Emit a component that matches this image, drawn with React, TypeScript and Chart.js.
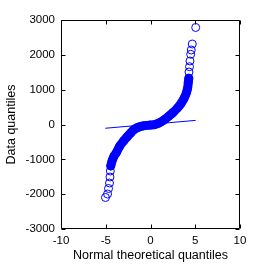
import React, { useEffect, useRef } from "react";
import { Chart, registerables } from "chart.js";

Chart.register(...registerables);

// Dense part of the Q-Q band (theoretical quantile, data quantile)
const bandX = [-4.44, -4.3, -4.1, -3.8, -3.44, -3.0, -2.6, -2.2, -1.9, -1.5, -1.17, -0.8, -0.4, 0.0, 0.5, 0.84, 1.2, 1.6, 2.0, 2.5, 3.0, 3.4, 3.75, 4.0, 4.15, 4.22, 4.28];
const bandY = [-1190, -1050, -920, -800, -620, -470, -350, -240, -160, -95, -62, -40, -25, -15, 0, 30, 80, 150, 230, 340, 470, 600, 750, 900, 1050, 1200, 1330];

// Sparse tail points
const lowTailX = [-5.03, -4.8, -4.69, -4.58, -4.53, -4.49];
const lowTailY = [-2096, -1995, -1837, -1680, -1507, -1335];
const highTailX = [4.3, 4.36, 4.41, 4.49, 4.55, 4.67, 5.05];
const highTailY = [1507, 1659, 1823, 2015, 2139, 2311, 2785];

// Reference line end points
const refX = [-5.05, 5.05];
const refY = [-108, 118];

const xTicks = [-10, -5, 0, 5, 10];
const yTicks = [-3000, -2000, -1000, 0, 1000, 2000, 3000];

const BLUE = "#0000ff";
const FONT = "'Liberation Sans', Arial, Helvetica, sans-serif";

const zip = (xs: number[], ys: number[]) => xs.map((x, i) => ({ x, y: ys[i] }));

const boxPlugin = {
  id: "matlabBox",
  afterDraw(chart: any) {
    const { ctx, chartArea } = chart;
    const { left, right, top, bottom } = chartArea;
    const xs = chart.scales.x;
    const ys = chart.scales.y;
    const L = Math.round(left) + 0.5;
    const R = Math.round(right) - 0.5;
    const T = Math.round(top) + 0.5;
    const B = Math.round(bottom) - 0.5;
    const len = 4;
    ctx.save();
    ctx.strokeStyle = "#000";
    ctx.lineWidth = 1;
    ctx.beginPath();
    ctx.rect(L, T, R - L, B - T);
    xTicks.forEach((v) => {
      const p = Math.round(xs.getPixelForValue(v)) + 0.5;
      ctx.moveTo(p, B);
      ctx.lineTo(p, B - len);
      ctx.moveTo(p, T);
      ctx.lineTo(p, T + len);
    });
    yTicks.forEach((v) => {
      const p = Math.round(ys.getPixelForValue(v)) + 0.5;
      ctx.moveTo(L, p);
      ctx.lineTo(L + len, p);
      ctx.moveTo(R, p);
      ctx.lineTo(R - len, p);
    });
    ctx.stroke();
    ctx.restore();
  },
};

export default function App() {
  const ref = useRef<HTMLCanvasElement | null>(null);
  useEffect(() => {
    if (!ref.current) return;
    const allPts = [...zip(lowTailX, lowTailY), ...zip(bandX, bandY), ...zip(highTailX, highTailY)];
    const chart = new Chart(ref.current, {
      type: "scatter",
      data: {
        datasets: [
          {
            data: zip(bandX, bandY),
            showLine: true,
            borderColor: BLUE,
            borderWidth: 9,
            borderCapStyle: "round",
            borderJoinStyle: "round",
            pointRadius: 0,
            tension: 0.3,
          } as any,
          {
            data: allPts,
            showLine: false,
            pointStyle: "circle",
            pointRadius: 4,
            pointBorderWidth: 1,
            pointBorderColor: BLUE,
            pointBackgroundColor: "rgba(0,0,0,0)",
          },
          {
            data: zip(refX, refY),
            showLine: true,
            borderColor: BLUE,
            borderWidth: 1,
            pointRadius: 0,
          },
        ],
      },
      options: {
        animation: false,
        responsive: false,
        devicePixelRatio: 1,
        layout: { padding: { top: 20, right: 25, left: 0, bottom: 0 } },
        plugins: { legend: { display: false }, tooltip: { enabled: false } },
        scales: {
          x: {
            type: "linear",
            min: -10,
            max: 10,
            afterBuildTicks: (s: any) => { s.ticks = xTicks.map((v) => ({ value: v })); },
            afterFit: (s: any) => { s.height = 36; },
            grid: { display: false, drawTicks: false },
            border: { display: false },
            ticks: {
              color: "#000",
              font: { family: FONT, size: 11.5 },
              padding: 5,
              maxRotation: 0,
              callback: (v: any) => String(v),
            },
            title: {
              display: true,
              text: "Normal theoretical quantiles",
              color: "#000",
              font: { family: FONT, size: 12.5 },
              padding: { top: 0, bottom: 2 },
            },
          },
          y: {
            type: "linear",
            min: -3000,
            max: 3000,
            afterBuildTicks: (s: any) => { s.ticks = yTicks.map((v) => ({ value: v })); },
            afterFit: (s: any) => { s.width = 61; },
            grid: { display: false, drawTicks: false },
            border: { display: false },
            ticks: {
              color: "#000",
              font: { family: FONT, size: 11.5 },
              padding: 6,
              callback: (v: any) => String(v),
            },
            title: {
              display: true,
              text: "Data quantiles",
              color: "#000",
              font: { family: FONT, size: 12.5 },
              padding: { top: 4, bottom: 0 },
            },
          },
        },
      },
      plugins: [boxPlugin],
    });
    return () => chart.destroy();
  }, []);
  return (
    <div style={{ position: "fixed", left: 0, top: 0, width: 265, height: 265, background: "#fff" }}>
      <canvas ref={ref} width={265} height={265} style={{ display: "block" }} />
    </div>
  );
}
